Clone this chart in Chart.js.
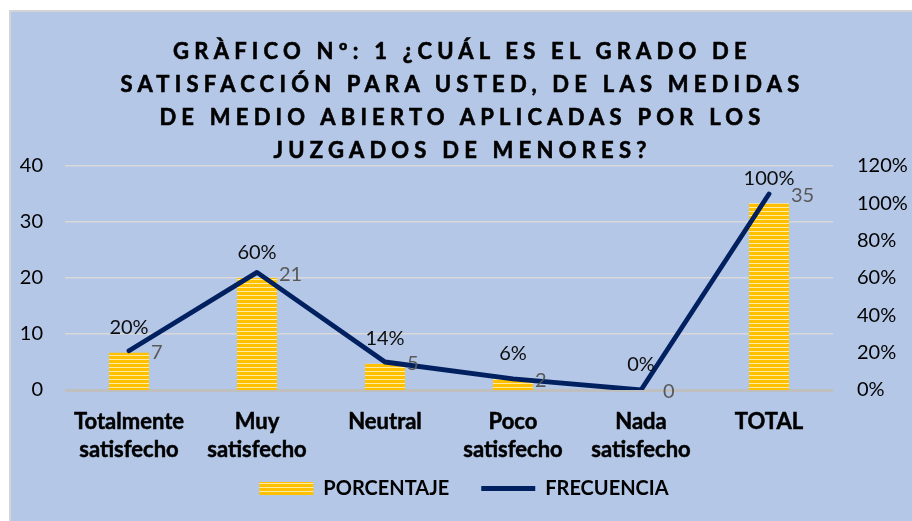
<!DOCTYPE html>
<html>
<head>
<meta charset="utf-8">
<script src="https://cdn.jsdelivr.net/npm/chart.js@4.4.0/dist/chart.umd.min.js"></script>
<style>
  html, body { margin: 0; padding: 0; background: #fff; }
  #wrap { position: relative; width: 912px; height: 521px; overflow: hidden; }
  #panel { position: absolute; left: 9px; top: 10px; right: 0; bottom: 0; background: #b4c7e7;
           border-left: 2px solid #d4d4d4; border-top: 2px solid #d4d4d4; }
  #chart { position: absolute; left: 0; top: 0; }
  #title { position: absolute; left: 3px; width: 919px; top: 34px; text-align: center; white-space: nowrap;
           font: bold 22px Lato, sans-serif; line-height: 33px; letter-spacing: 5px; color: #000;
           -webkit-text-stroke: 0.6px #000; }
</style>
</head>
<body>
<div id="wrap">
  <div id="panel"></div>
  <canvas id="chart" width="912" height="521"></canvas>
  <div id="title">GRÀFICO Nº: 1 ¿CUÁL ES EL GRADO DE<br>SATISFACCIÓN PARA USTED, DE LAS MEDIDAS<br>DE MEDIO ABIERTO APLICADAS POR LOS<br>JUZGADOS DE MENORES?</div>
</div>
<script>
// datos
const categorias = [['Totalmente', 'satisfecho'], ['Muy', 'satisfecho'], 'Neutral', ['Poco', 'satisfecho'], ['Nada', 'satisfecho'], 'TOTAL'];
const frecuencia = [7, 21, 5, 2, 0, 35];
const porcentaje = [0.20, 0.60, 0.14, 0.06, 0, 1.00];
const ticksFrecuencia = [0, 10, 20, 30, 40];
const ticksPorcentaje = [0, 0.2, 0.4, 0.6, 0.8, 1.0, 1.2];

function rayas() {
    const c = document.createElement('canvas');
    c.width = 4; c.height = 4;
    const g = c.getContext('2d');
    g.fillStyle = '#ffeaa6';
    g.fillRect(0, 0, 4, 4);
    g.fillStyle = '#ffc000';
    g.fillRect(0, 0, 4, 3);
    return g.createPattern(c, 'repeat');
}

// ajusta el espaciado del titulo al ancho del original
function espaciarTitulo() {
    const t = document.getElementById('title');
    const g = document.createElement('canvas').getContext('2d');
    g.font = 'bold 22px Lato';
    const linea = 'SATISFACCIÓN PARA USTED, DE LAS MEDIDAS';
    const s = (685 - g.measureText(linea).width) / linea.length;
    t.style.letterSpacing = s.toFixed(2) + 'px';
}

const etiquetas = {
    id: 'etiquetas',
    afterDatasetsDraw(chart) {
        const ctx = chart.ctx;
        ctx.save();
        ctx.font = '20px Lato';
        ctx.textBaseline = 'middle';
        chart.getDatasetMeta(0).data.forEach((el, i) => {
            ctx.fillStyle = '#0d0d0d';
            ctx.textAlign = 'center';
            ctx.fillText(Math.round(porcentaje[i] * 100) + '%', el.x, el.y - 25);
        });
        chart.getDatasetMeta(1).data.forEach((el, i) => {
            ctx.fillStyle = '#595959';
            ctx.textAlign = 'left';
            ctx.fillText(String(frecuencia[i]), el.x + 22, el.y + 2);
        });
        ctx.restore();
    }
};

Promise.all([
    document.fonts.load('bold 20px Lato'),
    document.fonts.load('20px Lato')
]).finally(() => {
    espaciarTitulo();
    const ctx = document.getElementById('chart').getContext('2d');
    new Chart(ctx, {
        type: 'bar',
        data: {
            labels: categorias,
            datasets: [{
                type: 'bar',
                label: 'PORCENTAJE',
                data: porcentaje,
                yAxisID: 'y2',
                backgroundColor: rayas(),
                borderWidth: 0,
                pointStyle: 'rect',
                categoryPercentage: 1,
                barPercentage: 0.3125,
                order: 1
            }, {
                type: 'line',
                label: 'FRECUENCIA',
                data: frecuencia,
                yAxisID: 'y',
                borderColor: '#002060',
                backgroundColor: '#002060',
                borderWidth: 4.8,
                borderCapStyle: 'round',
                borderJoinStyle: 'round',
                pointRadius: 0,
                pointStyle: 'line',
                tension: 0,
                order: 0
            }]
        },
        options: {
            responsive: false,
            animation: false,
            layout: { padding: { top: 166, left: 16, right: 0, bottom: 12.5 } },
            plugins: {
                tooltip: { enabled: false },
                legend: {
                    position: 'bottom',
                    labels: {
                        usePointStyle: true,
                        pointStyleWidth: 54,
                        boxHeight: 13,
                        padding: 32,
                        color: '#000',
                        font: { family: 'Lato', size: 20, weight: 'bold' },
                        sort: (a, b) => a.datasetIndex - b.datasetIndex
                    }
                }
            },
            scales: {
                x: {
                    grid: { display: false, drawTicks: false },
                    border: { display: false },
                    ticks: {
                        color: '#000',
                        padding: 18,
                        textStrokeColor: '#000',
                        textStrokeWidth: 0.5,
                        font: { family: 'Lato', size: 22, weight: 'bold', lineHeight: 28 / 22 }
                    },
                    afterFit: s => {
                        s.height = 56.5;
                        // las etiquetas de dos lineas sobresalen del alto del eje
                        s._computeLabelArea = () => undefined;
                    }
                },
                y: {
                    position: 'left',
                    min: 0, max: 40,
                    afterBuildTicks: s => { s.ticks = ticksFrecuencia.map(v => ({ value: v })); },
                    grid: {
                        drawTicks: false,
                        color: c => c.tick.value === 0 ? '#bfbfbf' : '#d9d9d9',
                        lineWidth: c => c.tick.value === 0 ? 3 : 1.5
                    },
                    border: { display: false },
                    ticks: { color: '#000', padding: 22, font: { family: 'Lato', size: 20 } },
                    afterFit: s => { s.width = 49; }
                },
                y2: {
                    position: 'right',
                    min: 0, max: 1.2,
                    afterBuildTicks: s => { s.ticks = ticksPorcentaje.map(v => ({ value: v })); },
                    grid: { display: false, drawTicks: false },
                    border: { display: false },
                    ticks: {
                        color: '#000', padding: 24, font: { family: 'Lato', size: 20 },
                        callback: v => Math.round(v * 100) + '%'
                    },
                    afterFit: s => { s.width = 79; }
                }
            }
        },
        plugins: [etiquetas]
    });
});
</script>
</body>
</html>
